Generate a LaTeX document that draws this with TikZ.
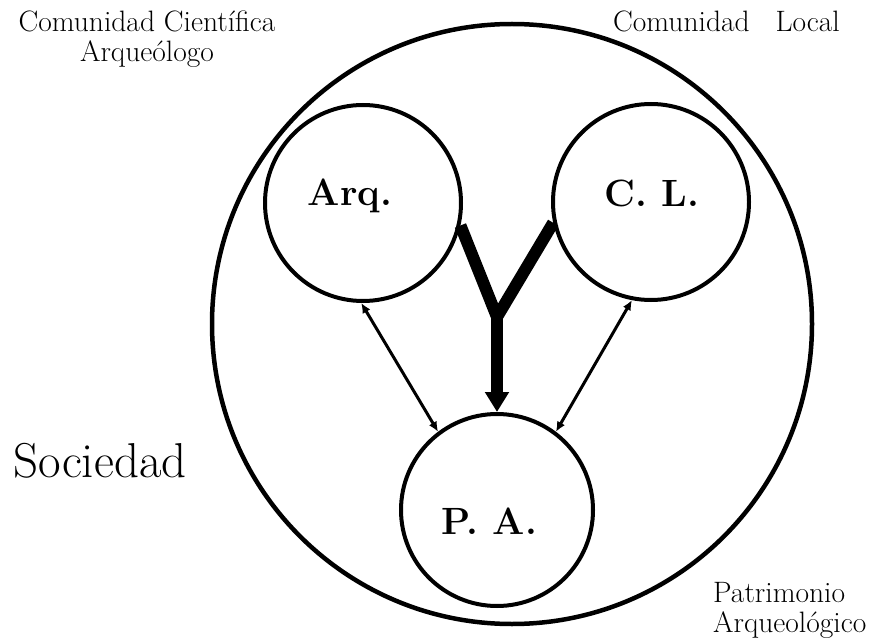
\documentclass[tikz,border=0pt]{standalone}
\usetikzlibrary{arrows.meta}
\begin{document}
\begin{tikzpicture}[x=1pt, y=-1pt,
  ring/.style={draw, circle, line width=4pt, inner sep=0pt, minimum size=#1},
  caption/.style={font=\fontsize{29.5}{30}\selectfont, inner sep=0pt},
  tag/.style={font=\bfseries\fontsize{38}{42}\selectfont, inner sep=0pt},
  link/.style={line width=3pt, {Latex[length=10pt,width=9pt]}-{Latex[length=10pt,width=9pt]}},
  trunk/.style={line width=12pt, line join=miter}]
\useasboundingbox (0,0) rectangle (873,639);

% the society and its three members
\node[ring=600pt, line width=4.5pt] (soc) at (512,324) {};
\node[ring=196pt] (arq) at (363,203) {};
\node[ring=196pt] (cl)  at (651,202) {};
\node[ring=192pt] (pa)  at (497,510) {};

% labels inside the circles
\node[tag, anchor=base] (arqtxt) at (350,206) {Arq.};
\node[tag, anchor=base] (cltxt)  at (652,207) {C. L.};
\node[tag, anchor=base] (patxt)  at (489,534) {P. A.};

% surrounding captions
\node[caption, anchor=north, align=center] (cc) at (147,11) {Comunidad Científica\\Arqueólogo};
\node[caption, anchor=base west] (loc) at (613,32) {Comunidad\hspace{26pt}Local};
\node[caption, anchor=north west, align=left] (pat) at (713,582) {Patrimonio\\Arqueológico};
\node[font=\fontsize{49}{54}\selectfont, inner sep=0pt, anchor=base west] (socname) at (13,477) {Sociedad};

% the joint trunk from both communities to the heritage
\coordinate (fork) at (497,317);
\draw[trunk] (arq.-13) -- (fork) -- (cl.192);
\draw[trunk, -{Triangle[width=23pt,length=20pt]}] (fork) -- (pa.north);

% two-way links
\draw[link] (arq.269) -- (pa.127);
\draw[link] (cl.259) -- (pa.53);
\end{tikzpicture}
\end{document}
